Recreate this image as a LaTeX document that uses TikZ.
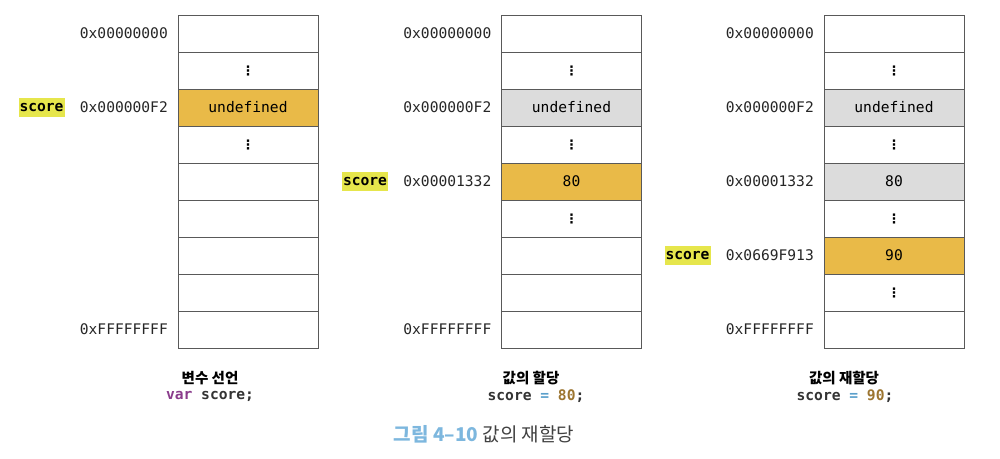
\documentclass[tikz,border=0pt]{standalone}
\usepackage{fontspec}
\setmonofont{DejaVu Sans Mono}
\newfontfamily\kofont{Noto Sans CJK KR}
\newfontfamily\dotfont{DejaVu Sans}
\usetikzlibrary{positioning}
\definecolor{memorange}{HTML}{E9BA48}
\definecolor{memgray}{HTML}{DCDCDC}
\definecolor{hlyellow}{HTML}{E6E64C}
\definecolor{kwpurple}{HTML}{8A3C8C}
\definecolor{opblue}{HTML}{5A9FCB}
\definecolor{numbrown}{HTML}{9C7530}
\definecolor{capblue}{HTML}{7DB7DE}
\newcommand{\memfont}{\ttfamily\fontsize{14.6}{16}\selectfont}
\newcommand{\vdts}{{\dotfont\bfseries\fontsize{13}{13}\selectfont ⋮}}

\begin{document}
\begin{tikzpicture}[x=1pt, y=-1pt, font=\memfont,
    cell/.style={draw=black!65, line width=0.9pt, minimum width=140pt, minimum height=37pt, inner sep=0pt, outer sep=0pt},
    used/.style={cell, fill=memorange},
    old/.style={cell, fill=memgray},
    addr/.style={inner sep=0pt, text=black!85},
    varbox/.style={fill=hlyellow, inner xsep=1pt, minimum height=19pt, font=\memfont\bfseries},
    captitle/.style={font=\kofont\bfseries\fontsize{14.5}{16}\selectfont},
    code/.style={font=\memfont\bfseries, text=black!80}]
    \useasboundingbox (0,0) rectangle (1000,458);
    % Speicher: Variablendeklaration
    \foreach \i/\t/\s in {0//cell,1/\vdts/cell,2/undefined/used,3/\vdts/cell,4//cell,5//cell,6//cell,7//cell,8//cell}
        \node[\s] (a\i) at (248,33.5+37*\i) {\t};
    % Speicher: Zuweisung
    \foreach \i/\t/\s in {0//cell,1/\vdts/cell,2/undefined/old,3/\vdts/cell,4/80/used,5/\vdts/cell,6//cell,7//cell,8//cell}
        \node[\s] (b\i) at (571.5,33.5+37*\i) {\t};
    % Speicher: Neuzuweisung
    \foreach \i/\t/\s in {0//cell,1/\vdts/cell,2/undefined/old,3/\vdts/cell,4/80/old,5/\vdts/cell,6/90/used,7/\vdts/cell,8//cell}
        \node[\s] (c\i) at (894,33.5+37*\i) {\t};
    % Adressen
    \node[addr, left=10pt of a0] (a0l) {0x00000000};
    \node[addr, left=10pt of a2] (a2l) {0x000000F2};
    \node[addr, left=10pt of a8] (a8l) {0xFFFFFFFF};
    \node[addr, left=10pt of b0] (b0l) {0x00000000};
    \node[addr, left=10pt of b2] (b2l) {0x000000F2};
    \node[addr, left=10pt of b4] (b4l) {0x00001332};
    \node[addr, left=10pt of b8] (b8l) {0xFFFFFFFF};
    \node[addr, left=10pt of c0] (c0l) {0x00000000};
    \node[addr, left=10pt of c2] (c2l) {0x000000F2};
    \node[addr, left=10pt of c4] (c4l) {0x00001332};
    \node[addr, left=10pt of c6] (c6l) {0x0669F913};
    \node[addr, left=10pt of c8] (c8l) {0xFFFFFFFF};
    % Bezeichner
    \node[varbox, left=15pt of a2l] (sa) {score};
    \node[varbox, left=15pt of b4l] (sb) {score};
    \node[varbox, left=15pt of c6l] (sc) {score};
    % Beschriftung
    \node[captitle] (ta) at (210,378) {변수 선언};
    \node[code] (ka) at (210,396) {\textcolor{kwpurple}{var} score;};
    \node[captitle] (tb) at (531,378) {값의 할당};
    \node[code] (kb) at (536,396) {score \textcolor{opblue}{=} \textcolor{numbrown}{80};};
    \node[captitle] (tc) at (844,378) {값의 재할당};
    \node[code] (kc) at (845,396) {score \textcolor{opblue}{=} \textcolor{numbrown}{90};};
    \node[font=\kofont\fontsize{19}{21}\selectfont, text=black!75] (fig) at (484,434) {\textcolor{capblue}{\bfseries 그림 4–10} 값의 재할당};
\end{tikzpicture}
\end{document}
